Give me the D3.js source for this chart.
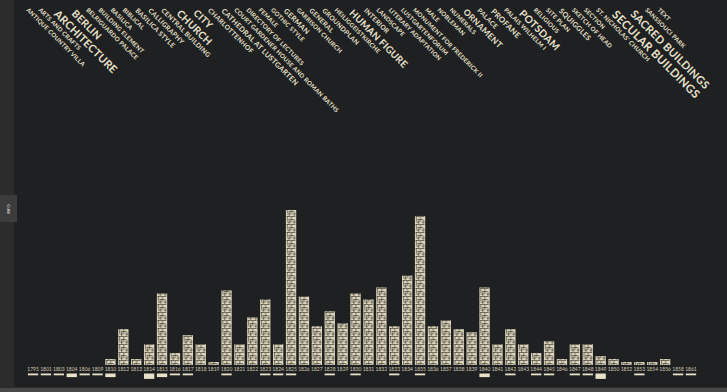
<!DOCTYPE html>
<html lang="en">
<head>
<meta charset="utf-8">
<script src="https://d3js.org/d3.v7.min.js"></script>
<style>
  body { margin: 0; background: #2b2b2b; overflow: hidden; }
  text { font-family: Lato, "Open Sans", sans-serif; }
</style>
</head>
<body>
<div id="chart"></div>
<script>
    // years shown along the bottom
    const years = ["1795","1801","1803","1804","1806","1809","1810","1812","1813","1814","1815","1816","1817","1818","1819",
        "1820","1821","1822","1823","1824","1825","1826","1827","1828","1829","1830","1831","1832","1833","1834","1835",
        "1836","1837","1838","1839","1840","1841","1842","1843","1844","1845","1846","1847","1848","1849","1850","1852",
        "1853","1854","1856","1858","1861"];
    // number of drawings per year (stacked cells)
    const drawings = [0,0,0,0,0,0,2,12,2,7,24,4,10,7,1,
        25,7,16,22,7,52,23,13,18,14,24,22,26,13,30,50,
        13,15,12,11,26,7,12,7,4,8,2,7,7,3,2,1,
        1,1,2,0,0];
    // undated / extra items marked under the year labels
    const extras = [1,1,1,2,1,1,2,0,0,3,2,1,1,0,0,
        1,0,0,1,1,1,0,0,1,0,1,0,0,1,0,1,
        0,0,0,0,2,0,1,0,1,1,0,1,1,3,0,0,
        1,0,0,1,1];

    // keyword tags and how often they occur
    const tags = ["ANTIQUE COUNTRY VILLA","ARTS AND CRAFTS","ARCHITECTURE","BERLIN","BELRIGUARDO PALACE","BUILDING ELEMENT",
        "BASILICA","BIBLICAL","BASILICA STYLE","CALLIGRAPHY","CENTRAL BUILDING","CHURCH","CITY","CHARLOTTENHOF",
        "CATHEDRAL AT LUSTGARTEN","COURT GARDENER HOUSE AND ROMAN BATHS","DIRECTORY OF LECTURES","FEMALE","GOTHIC STYLE",
        "GERMAN","GARRISON CHURCH","GENERAL","GROUNDPLAN","HEILIGGEISTKIRCHE","HUMAN FIGURE","INTERIOR","LANDSCAPE",
        "LITERARY ADAPTATION","LUSTGARTENFORUM","MONUMENT FOR FREDERICK II","MALE","NOBLEMAN","NUMERALS","ORNAMENT",
        "PALACE","PROFANE","PALAIS WILHELM I","POTSDAM","RELIGIOUS","SITE PLAN","SQUIGGLES","SKETCH OF HEAD","SECTION",
        "ST. NICHOLAS' CHURCH","SECULAR BUILDINGS","SACRED BUILDINGS","SANSSOUCI PARK","TEXT"];
    const tagCounts = [1,1,9,8,1,1,1,1,2,2,2,8,7,2,3,1,1,1,1,3,1,2,2,1,7,2,1,1,1,1,1,1,1,5,2,4,1,8,1,1,3,1,1,1,10,9,1,1];

    const width = 727, height = 392;
    const baseline = 365;
    const cream = "#e7e1c9";

    const svg = d3.select("#chart")
        .append("svg")
        .attr("width", width)
        .attr("height", height);

    // frame + dark panel
    svg.append("rect").attr("width", width).attr("height", height).attr("fill", "#2c2c2c");
    svg.append("rect").attr("x", 14).attr("y", 0).attr("width", width - 14).attr("height", 387).attr("fill", "#1f2022");
    svg.append("rect").attr("x", 0).attr("y", 388).attr("width", width).attr("height", 4).attr("fill", "#484848");

    // little side tab
    svg.append("rect").attr("x", 0).attr("y", 195).attr("width", 17).attr("height", 27).attr("fill", "#3c3c3c");
    svg.append("text")
        .attr("transform", "translate(10,209) rotate(-90)")
        .attr("text-anchor", "middle")
        .style("font-size", "4px")
        .attr("fill", "#ddd")
        .text("INFO");

    // scales
    const x = d3.scaleBand()
        .domain(years)
        .range([25.3, 698.7])
        .padding(0.2);
    const y = d3.scaleLinear()
        .domain([0, 52])
        .range([baseline, 210]);
    const bw = x.bandwidth();

    // texture for the stacked drawing cells
    const pat = svg.append("defs").append("pattern")
        .attr("id", "cells")
        .attr("patternUnits", "userSpaceOnUse")
        .attr("width", bw)
        .attr("height", 8);
    pat.append("rect").attr("width", bw).attr("height", 8).attr("fill", "#ddd6bc");
    const segs = [[0.5, 0.5, 9.5, 0.5], [2.5, 3.5, 8, 3.5], [1, 6, 5, 6], [1.5, 0, 1.5, 5],
        [5.5, 1, 5.5, 6], [8.5, 3.5, 8.5, 8], [3.5, 4, 3.5, 8], [7, 6, 10, 6]];
    pat.selectAll("line")
        .data(segs)
        .join("line")
        .attr("x1", d => d[0]).attr("y1", d => d[1])
        .attr("x2", d => d[2]).attr("y2", d => d[3])
        .attr("stroke", "#44423b")
        .attr("stroke-width", 0.7);

    const data = years.map((yr, i) => ({ year: yr, n: drawings[i], extra: extras[i] }));

    // bars
    svg.selectAll("g.bar")
        .data(data.filter(d => d.n > 0))
        .join("g")
        .attr("class", "bar")
        .attr("transform", d => `translate(${x(d.year)},0)`)
        .append("rect")
        .attr("x", 0)
        .attr("y", d => y(d.n))
        .attr("width", bw)
        .attr("height", d => baseline - y(d.n))
        .attr("fill", "url(#cells)");

    // year labels
    svg.selectAll("text.year")
        .data(data)
        .join("text")
        .attr("class", "year")
        .attr("x", d => x(d.year) + bw / 2)
        .attr("y", 371)
        .attr("text-anchor", "middle")
        .style("font-size", "5px")
        .attr("fill", "#cfc9b2")
        .text(d => d.year);

    // underline marks
    svg.selectAll("rect.extra")
        .data(data.filter(d => d.extra > 0))
        .join("rect")
        .attr("class", "extra")
        .attr("x", d => x(d.year))
        .attr("y", 373.5)
        .attr("width", bw)
        .attr("height", d => d.extra * 1.8)
        .attr("fill", cream);

    // tag labels, size by count, packed left to right
    const fs = d3.scaleLinear().domain([1, 10]).range([6, 11.5]);
    const sizes = tagCounts.map(c => fs(c));
    const cum = [0];
    for (let i = 1; i < sizes.length; i++) {
        cum.push(cum[i - 1] + 5 + 1.2 * (sizes[i - 1] + sizes[i]) / 2);
    }
    const tx = d3.scaleLinear().domain([0, cum[cum.length - 1]]).range([26, 657]);

    svg.selectAll("text.tag")
        .data(tags)
        .join("text")
        .attr("class", "tag")
        .attr("transform", (d, i) => `translate(${tx(cum[i])},${5 + sizes[i] * 0.9}) rotate(45)`)
        .style("font-size", (d, i) => sizes[i] + "px")
        .style("font-weight", 700)
        .style("letter-spacing", "0.25px")
        .attr("fill", cream)
        .text(d => d);
</script>
</body>
</html>
